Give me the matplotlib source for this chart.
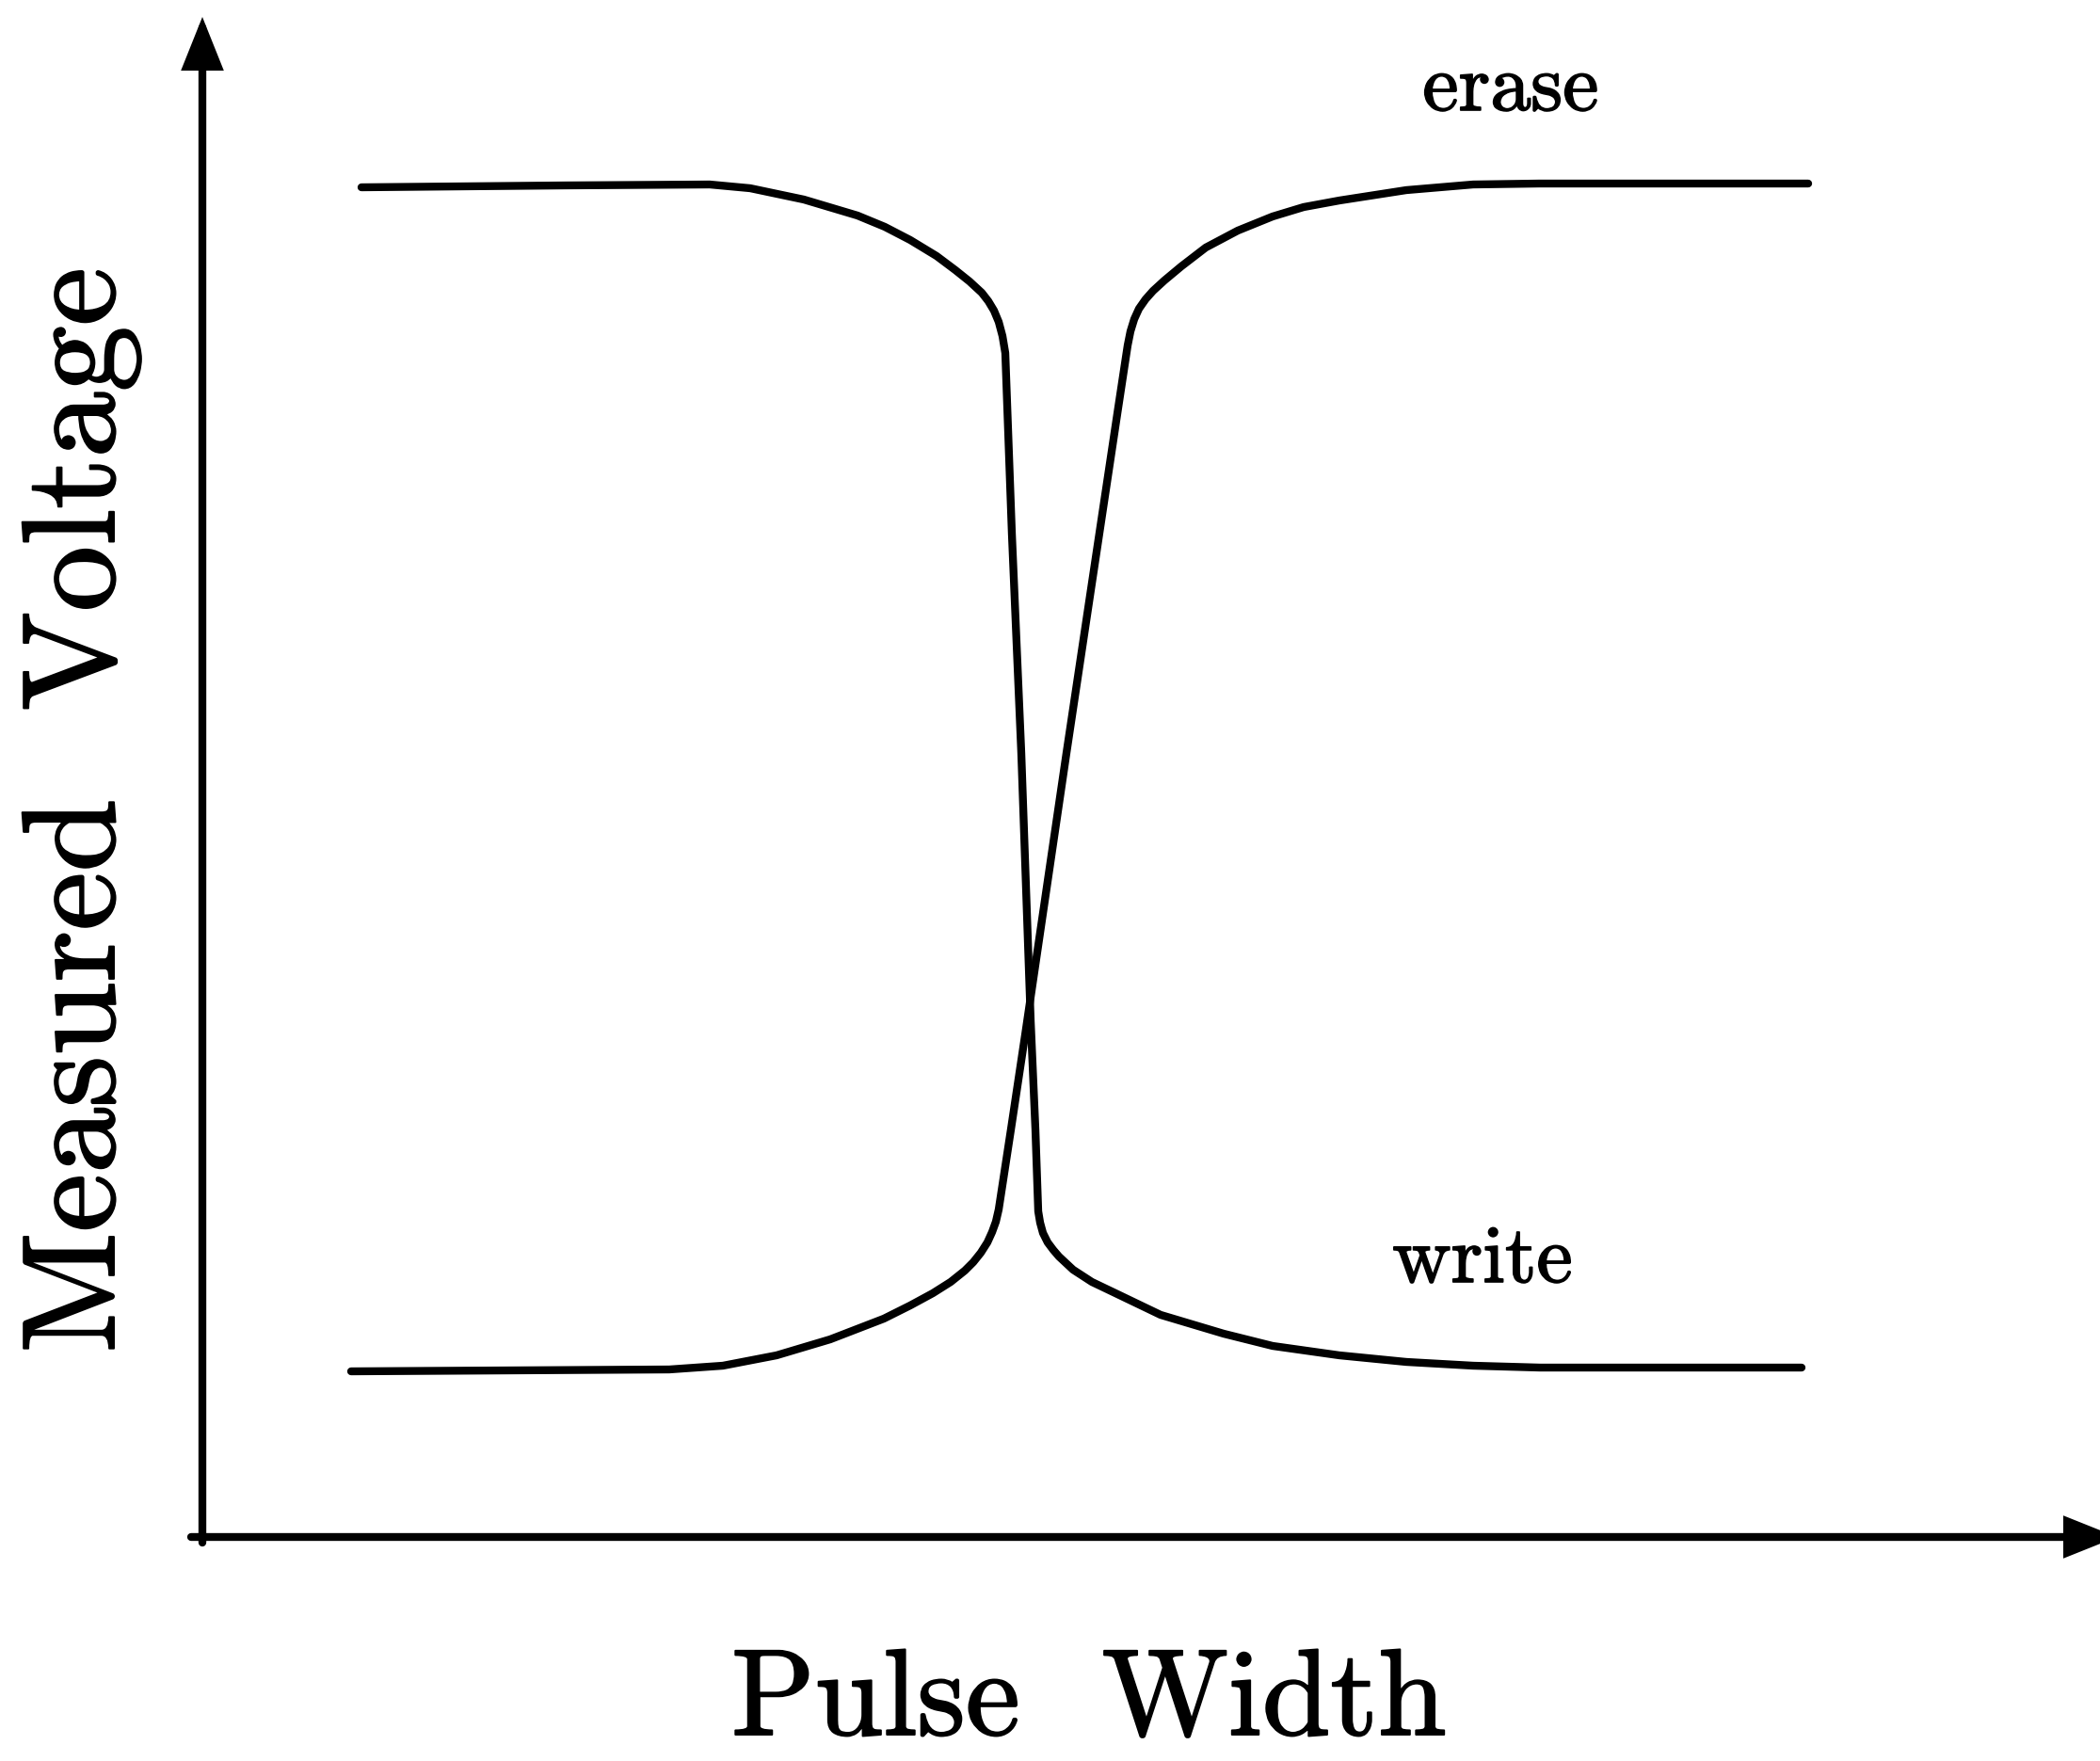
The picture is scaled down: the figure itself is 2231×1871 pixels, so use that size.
import matplotlib
matplotlib.use("Agg")
import matplotlib.pyplot as plt
import matplotlib.patheffects as pe

# ---- data (arbitrary units: pulse width, measured voltage) ----
write_x = [169, 385, 539, 582, 639, 696, 725, 752, 780, 800, 815, 828, 835, 841, 846, 850, 853,
           860, 870, 880, 885, 888, 890, 893, 898, 904, 910, 925, 945, 968, 1018, 1085, 1137,
           1208, 1279, 1350, 1421, 1699]
write_y = [1434, 1436, 1437, 1433, 1421, 1404, 1392, 1378, 1361, 1346, 1334, 1322, 1313, 1303, 1291, 1276, 1258,
           1066, 833, 548, 433, 346, 334, 323, 313, 305, 298, 284, 271, 260, 236, 216, 203,
           193, 186, 182, 180, 180]

erase_x = [158, 496, 553, 610, 667, 724, 752, 776, 795, 810, 819, 827, 834, 839, 843, 846,
           859, 874, 896, 918, 943, 958, 973, 983, 986, 990, 995, 1002, 1010, 1022, 1040,
           1066, 1100, 1137, 1170, 1208, 1279, 1350, 1420, 1706]
erase_y = [176, 178, 182, 193, 210, 232, 246, 259, 271, 283, 292, 302, 313, 324, 335, 348,
           433, 533, 683, 833, 1000, 1100, 1200, 1266, 1281, 1294, 1305, 1315, 1324, 1335, 1350,
           1370, 1388, 1403, 1413, 1420, 1431, 1437, 1438, 1438]

x_label = "Pulse  Width"
y_label = "Measured  Voltage"
erase_label = "erase"
write_label = "write"

W, H = 2231, 1871
DPI = 100
fig = plt.figure(figsize=(W / DPI, H / DPI), dpi=DPI)
fig.patch.set_facecolor("white")

# axes: origin at the corner of the drawn axes, extending to the arrow tips
left_px, bottom_px, right_px, top_px = 215, 1633, 2249, 18
ax = fig.add_axes([left_px / W, 1 - bottom_px / H,
                   (right_px - left_px) / W, (bottom_px - top_px) / H])
ax.set_xlim(0, right_px - left_px)
ax.set_ylim(0, bottom_px - top_px)
ax.axis("off")

arrow_kw = dict(arrowstyle="-|>,head_length=30,head_width=12", lw=6.0, color="black",
                mutation_scale=1, shrinkA=0, shrinkB=0, joinstyle="miter")
ax.annotate("", xy=(right_px - left_px, 0), xytext=(-12, 0),
            arrowprops=arrow_kw, annotation_clip=False)
ax.annotate("", xy=(0, bottom_px - top_px), xytext=(0, -6),
            arrowprops=arrow_kw, annotation_clip=False)

line_kw = dict(color="black", lw=6.0, solid_capstyle="round", solid_joinstyle="round",
               clip_on=False)
ax.plot(write_x, write_y, **line_kw)
ax.plot(erase_x, erase_y, **line_kw)

font = "cmr10"
big_fx = [pe.withStroke(linewidth=1.4, foreground="black")]
small_fx = [pe.withStroke(linewidth=1.2, foreground="black")]
fig.text(1157 / W, 1 - 1843 / H, x_label, family=font, fontsize=94,
         ha="center", va="baseline", path_effects=big_fx)
fig.text(121 / W, 1 - 861 / H, y_label, family=font, fontsize=101,
         ha="center", va="baseline", rotation=90, rotation_mode="anchor",
         path_effects=big_fx)
fig.text(1605 / W, 1 - 117 / H, erase_label, family=font, fontsize=62,
         ha="center", va="baseline", path_effects=small_fx)
fig.text(1575 / W, 1 - 1362 / H, write_label, family=font, fontsize=62,
         ha="center", va="baseline", path_effects=small_fx)

fig.savefig("out.png", dpi=DPI, facecolor="white")
